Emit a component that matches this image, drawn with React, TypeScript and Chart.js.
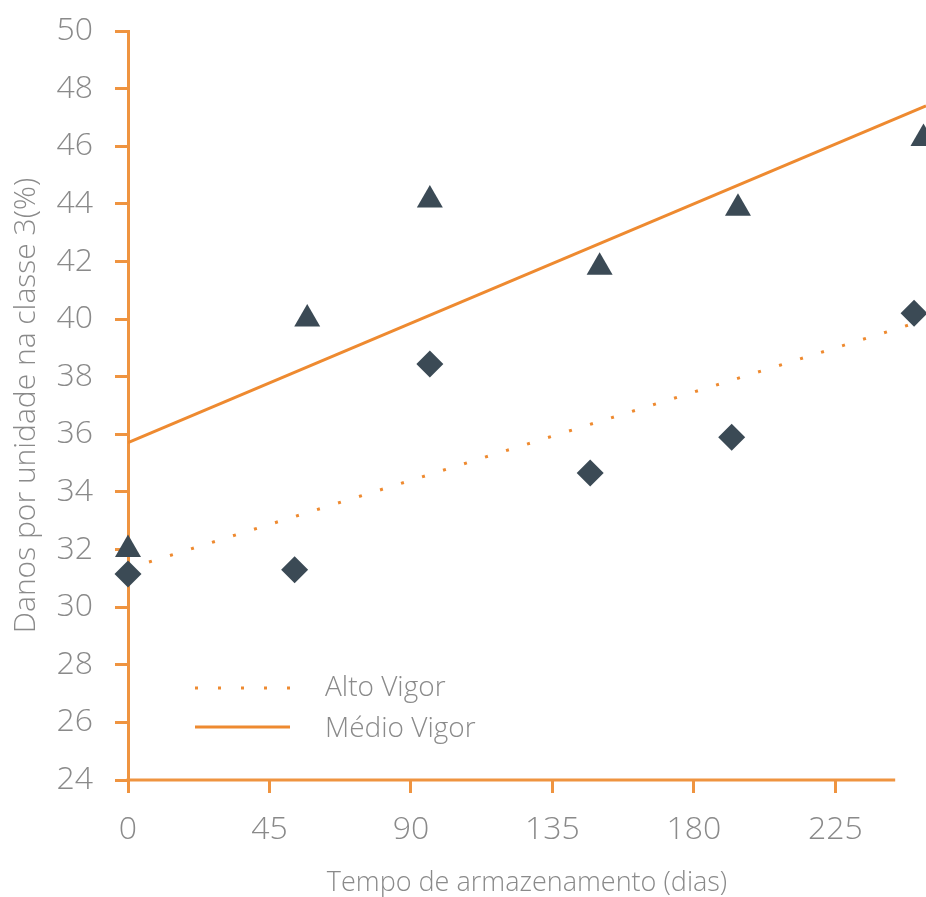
import React, { useEffect, useRef } from "react";
import { Chart, registerables } from "chart.js";

Chart.register(...registerables);

// Data
const medioDays = [0, 57, 96, 150, 194, 253];
const medioValues = [32.0, 40.0, 44.13, 41.8, 43.85, 46.27];
const altoDays = [0, 53, 96, 147, 192, 250];
const altoValues = [31.15, 31.3, 38.44, 34.66, 35.9, 40.2];

const trendDays = [0, 253.8];
const medioTrend = [35.71, 47.4];
const altoTrend = [31.34, 39.98];

const xTickValues = [0, 45, 90, 135, 180, 225];
const xAxisEnd = 244;
const legendLabels = ["Alto Vigor", "Médio Vigor"];

const ORANGE = "#ee8a30";
const AXIS = "#ef9440";
const MARK = "#3b4a55";
const TEXT = "#8a8a8a";
const FONT = "'Open Sans', 'DejaVu Sans', sans-serif";

const toPoints = (xs: number[], ys: number[]) => xs.map((x, i) => ({ x, y: ys[i] }));

const customPlugin = {
  id: "customDecor",
  afterDatasetsDraw(chart: any) {
    const { ctx, chartArea, scales } = chart;
    const xs = scales.x;
    ctx.save();
    // x axis line
    ctx.strokeStyle = AXIS;
    ctx.lineWidth = 3;
    ctx.beginPath();
    ctx.moveTo(chartArea.left - 1.5, chartArea.bottom);
    ctx.lineTo(xs.getPixelForValue(xAxisEnd), chartArea.bottom);
    ctx.stroke();

    // legend
    const lx0 = chartArea.left + 67;
    const lx1 = chartArea.left + 162;
    const y1 = chartArea.bottom - 92;
    const y2 = chartArea.bottom - 53;
    ctx.strokeStyle = ORANGE;
    ctx.lineWidth = 3;
    ctx.setLineDash([3, 20]);
    ctx.beginPath();
    ctx.moveTo(lx0, y1);
    ctx.lineTo(lx1, y1);
    ctx.stroke();
    ctx.setLineDash([]);
    ctx.beginPath();
    ctx.moveTo(lx0, y2);
    ctx.lineTo(lx1, y2);
    ctx.stroke();

    ctx.fillStyle = TEXT;
    ctx.font = `300 28px ${FONT}`;
    ctx.textBaseline = "middle";
    ctx.textAlign = "left";
    ctx.fillText(legendLabels[0], chartArea.left + 197, y1);
    ctx.fillText(legendLabels[1], chartArea.left + 197, y2 + 2);
    ctx.restore();
  },
};

export default function App() {
  const canvasRef = useRef<HTMLCanvasElement | null>(null);

  useEffect(() => {
    const canvas = canvasRef.current;
    if (!canvas) return;
    const chart = new Chart(canvas, {
      type: "scatter",
      data: {
        datasets: [
          {
            label: "Médio Vigor",
            data: toPoints(medioDays, medioValues),
            pointStyle: "triangle",
            pointRadius: 15,
            pointBackgroundColor: MARK,
            pointBorderColor: MARK,
            pointBorderWidth: 0,
            clip: false as any,
          },
          {
            label: "Alto Vigor",
            data: toPoints(altoDays, altoValues),
            pointStyle: "rectRot",
            pointRadius: 13.5,
            pointBackgroundColor: MARK,
            pointBorderColor: MARK,
            pointBorderWidth: 0,
            clip: false as any,
          },
          {
            type: "line",
            label: "Médio Vigor (tendência)",
            data: toPoints(trendDays, medioTrend),
            borderColor: ORANGE,
            borderWidth: 3,
            pointRadius: 0,
            showLine: true,
            fill: false,
          } as any,
          {
            type: "line",
            label: "Alto Vigor (tendência)",
            data: toPoints(trendDays, altoTrend),
            borderColor: ORANGE,
            borderWidth: 3,
            borderDash: [3, 19],
            pointRadius: 0,
            showLine: true,
            fill: false,
          } as any,
        ],
      },
      options: {
        responsive: false,
        animation: false,
        devicePixelRatio: 1,
        layout: { autoPadding: false, padding: { top: 31, right: 0, left: 0, bottom: 0 } },
        plugins: {
          legend: { display: false },
          tooltip: { enabled: false },
        },
        scales: {
          x: {
            type: "linear",
            min: 0,
            max: 253.8,
            afterBuildTicks: (scale: any) => {
              scale.ticks = xTickValues.map((v) => ({ value: v }));
            },
            afterFit: (scale: any) => {
              scale.height = 117;
              scale.paddingLeft = 0;
              scale.paddingRight = 0;
            },
            border: { display: false },
            grid: {
              drawOnChartArea: false,
              drawTicks: true,
              tickLength: 13,
              color: AXIS,
              lineWidth: 3,
            },
            ticks: {
              color: TEXT,
              padding: 18,
              maxRotation: 0,
              font: { family: FONT, size: 32, weight: "300" as any },
            },
            title: {
              display: true,
              text: "Tempo de armazenamento (dias)",
              color: TEXT,
              padding: { top: 0, bottom: 0 },
              font: { family: FONT, size: 27, weight: "300" as any, lineHeight: 1 },
            },
          },
          y: {
            type: "linear",
            min: 24,
            max: 50,
            afterFit: (scale: any) => {
              scale.width = 128;
              scale.paddingTop = 0;
              scale.paddingBottom = 0;
            },
            border: { display: true, color: AXIS, width: 3 },
            grid: {
              drawOnChartArea: false,
              drawTicks: true,
              tickLength: 13,
              color: AXIS,
              lineWidth: 3,
            },
            ticks: {
              stepSize: 2,
              color: TEXT,
              padding: 22,
              font: { family: FONT, size: 32, weight: "300" as any },
            },
            title: {
              display: true,
              text: "Danos por unidade na classe 3(%)",
              color: TEXT,
              padding: { top: 8, bottom: 0 },
              font: { family: FONT, size: 30, weight: "300" as any, lineHeight: 1.2 },
            },
          },
        },
      },
      plugins: [customPlugin],
    });
    return () => chart.destroy();
  }, []);

  return (
    <div style={{ position: "fixed", left: 0, top: 0, width: 926, height: 897, background: "#fff" }}>
      <canvas ref={canvasRef} width={926} height={897} style={{ display: "block" }} />
    </div>
  );
}
